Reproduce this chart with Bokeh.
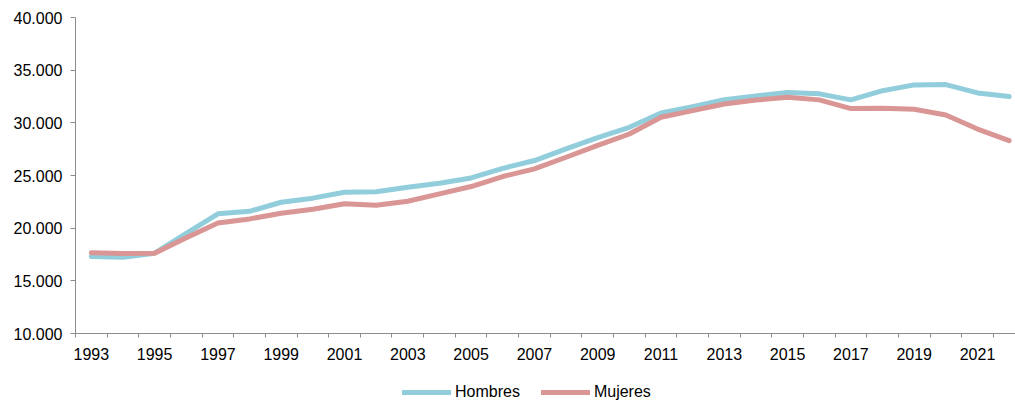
from bokeh.plotting import figure
from bokeh.models import FixedTicker, Range1d, Legend, LegendItem
from bokeh.layouts import column
from bokeh.embed import file_html
from bokeh.resources import INLINE

years = list(range(1993, 2023))
hombres = [17300, 17240, 17620, 19500, 21360, 21600, 22460, 22850, 23410, 23450,
           23890, 24270, 24770, 25680, 26420, 27530, 28600, 29580, 30940, 31540,
           32200, 32550, 32870, 32750, 32180, 33050, 33600, 33630, 32840, 32490]
mujeres = [17660, 17590, 17620, 19100, 20500, 20880, 21420, 21800, 22310, 22180,
           22560, 23260, 23950, 24900, 25630, 26730, 27860, 28940, 30530, 31160,
           31790, 32160, 32420, 32180, 31350, 31380, 31290, 30750, 29410, 28310]
y_ticks = [10000, 15000, 20000, 25000, 30000, 35000, 40000]
y_tick_labels = ["10.000", "15.000", "20.000", "25.000", "30.000", "35.000", "40.000"]
x_label_years = list(range(1993, 2023, 2))
series_names = ["Hombres", "Mujeres"]
series_colors = ["#92CDDC", "#D99694"]

AXIS = "#8c8c8c"
FONT = "Liberation Sans"
FS = "16px"

p = figure(width=1015, height=370, output_backend="svg", toolbar_location=None,
           x_range=Range1d(1992.5, 2022.2), y_range=Range1d(10000, 40000),
           min_border_left=75, min_border_right=0, min_border_top=17, min_border_bottom=37)
p.grid.visible = False
p.outline_line_color = None
p.background_fill_color = "white"

for vals, col in zip([hombres, mujeres], series_colors):
    p.line(years, vals, line_width=5, line_color=col, line_join="round", line_cap="round")

xa = p.xaxis[0]
xa.ticker = FixedTicker(ticks=x_label_years, minor_ticks=[y - 0.5 for y in years] + [2022.5])
xa.major_tick_out = 0
xa.major_tick_in = 0
xa.minor_tick_out = 4
xa.minor_tick_in = 0
xa.minor_tick_line_color = AXIS
xa.axis_line_color = AXIS
xa.major_label_standoff = 10
xa.major_label_text_font = FONT
xa.major_label_text_font_size = FS
xa.major_label_text_color = "black"
xa.major_label_overrides = {y: str(y) for y in x_label_years}

ya = p.yaxis[0]
ya.ticker = FixedTicker(ticks=y_ticks, minor_ticks=[])
ya.major_label_overrides = {t: l for t, l in zip(y_ticks, y_tick_labels)}
ya.major_tick_out = 5
ya.major_tick_in = 0
ya.major_tick_line_color = AXIS
ya.minor_tick_line_color = None
ya.axis_line_color = AXIS
ya.major_label_standoff = 8
ya.major_label_text_font = FONT
ya.major_label_text_font_size = FS
ya.major_label_text_color = "black"

# legend strip below the chart
p2 = figure(width=1015, height=31, output_backend="svg", toolbar_location=None,
            x_range=Range1d(0, 1), y_range=Range1d(0, 1), min_border=0)
p2.axis.visible = False
p2.grid.visible = False
p2.outline_line_color = None
items = []
for name, vals, col in zip(series_names, [hombres, mujeres], series_colors):
    r = p2.line(years, vals, line_width=5, line_color=col, line_cap="round")
    items.append(LegendItem(label=name, renderers=[r]))
legend = Legend(items=items, orientation="horizontal", location=(327, 0),
                glyph_width=49, glyph_height=16, label_height=16,
                label_standoff=4, spacing=21, padding=0, margin=0,
                border_line_color=None, background_fill_alpha=0,
                label_text_font=FONT, label_text_font_size=FS,
                label_text_color="black")
p2.add_layout(legend, "center")

layout = column(p, p2, spacing=0)
open("out.html", "w").write(file_html(layout, INLINE))
